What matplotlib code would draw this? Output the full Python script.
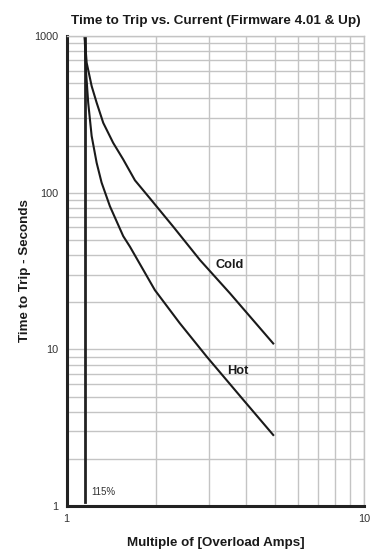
import matplotlib
matplotlib.use("Agg")
import matplotlib.pyplot as plt
from matplotlib.ticker import LogLocator, FixedLocator, NullFormatter

plt.rcParams['font.family'] = ['Liberation Sans', 'DejaVu Sans']

# Curvas (multiplo de corriente, segundos)
frio_x = [1.15, 1.168, 1.214, 1.262, 1.328, 1.434, 1.55, 1.697, 1.906, 2.284, 2.81, 3.54, 4.95]
frio_y = [1000, 675, 479, 375, 279, 208, 163, 120, 92, 60.6, 37.1, 22.8, 10.9]

caliente_x = [1.15, 1.161, 1.182, 1.214, 1.262, 1.311, 1.398, 1.55, 1.633, 1.98, 2.40, 2.96, 3.93, 4.95]
caliente_y = [1000, 612, 375, 230, 155, 116, 82, 52.8, 45.2, 23.9, 14.7, 8.97, 4.75, 2.84]

limite_x = 1.15
limite_y = [1.065, 1000]

fig = plt.figure(figsize=(3.7, 5.5), dpi=100)
ax = fig.add_axes([0.180, 0.08, 0.804, 0.8545])

ax.set_xscale('log')
ax.set_yscale('log')
ax.set_xlim(1, 10)
ax.set_ylim(1, 1000)

ax.xaxis.set_major_locator(FixedLocator([1, 10]))
ax.yaxis.set_major_locator(FixedLocator([1, 10, 100, 1000]))
ax.xaxis.set_minor_locator(LogLocator(base=10, subs=range(2, 10)))
ax.yaxis.set_minor_locator(LogLocator(base=10, subs=range(2, 10)))
ax.xaxis.set_minor_formatter(NullFormatter())
ax.yaxis.set_minor_formatter(NullFormatter())
ax.set_xticklabels(['1', '10'])
ax.set_yticklabels(['1', '10', '100', '1000'])

ax.grid(True, which='both', color='#c4c4c4', lw=1.0)
ax.set_axisbelow(True)
ax.tick_params(which='both', length=0, labelsize=7.8, colors='#333333', pad=6)

for lado in ['top', 'right']:
    ax.spines[lado].set_color('#c4c4c4')
    ax.spines[lado].set_linewidth(1.0)
for lado in ['left', 'bottom']:
    ax.spines[lado].set_color('#222222')
    ax.spines[lado].set_linewidth(2.2)

ax.plot([limite_x, limite_x], limite_y, color='#222222', lw=2.0)
ax.plot(frio_x, frio_y, color='#1a1a1a', lw=1.5)
ax.plot(caliente_x, caliente_y, color='#1a1a1a', lw=1.5)

ax.text(3.53, 34.5, 'Cold', fontsize=9.2, fontweight='bold', ha='center', va='center', color='#1a1a1a')
ax.text(3.75, 7.3, 'Hot', fontsize=9.2, fontweight='bold', ha='center', va='center', color='#1a1a1a')
ax.text(1.213, 1.22, '115%', fontsize=7, ha='left', va='center', color='#333333')

ax.set_title('Time to Trip vs. Current (Firmware 4.01 & Up)', fontsize=9.7, fontweight='bold', pad=9, color='#1a1a1a')
ax.set_xlabel('Multiple of [Overload Amps]', fontsize=9.6, fontweight='bold', labelpad=9, color='#1a1a1a')
ax.set_ylabel('Time to Trip - Seconds', fontsize=9.6, fontweight='bold', labelpad=2, color='#1a1a1a')

fig.savefig('out.png', dpi=100)
